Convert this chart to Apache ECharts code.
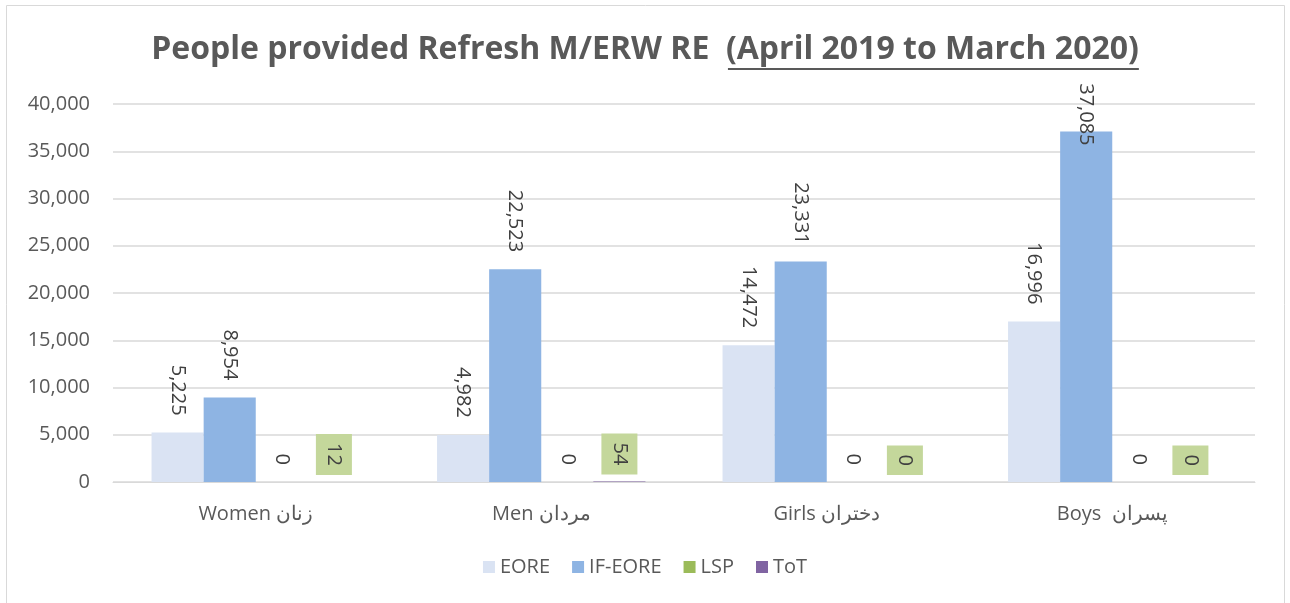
<!DOCTYPE html>
<html>
<head>
<meta charset="utf-8">
<style>
  html, body { margin: 0; padding: 0; background: #fff; }
  #chart { width: 1290px; height: 603px; }
</style>
<script src="https://cdn.jsdelivr.net/npm/echarts@6/dist/echarts.min.js"></script>
</head>
<body>
<div id="chart"></div>
<script>
// category labels (latin first, persian after, as drawn)
const categories = ['Women زنان', 'Men مردان', 'Girls دختران', 'Boys  پسران']
const eore = [5225, 4982, 14472, 16996]
const ifEore = [8954, 22523, 23331, 37085]
const lsp = [0, 0, 0, 0]
const tot = [12, 54, 0, 0]
const yTicks = [0, 5000, 10000, 15000, 20000, 25000, 30000, 35000, 40000]

const titleMain = 'People provided Refresh M/ERW RE  '
const titlePeriod = '(April 2019 to March 2020)'

const font = '"Open Sans", "Noto Sans", sans-serif'
const textColor = '#595959'
const titleSize = 32
const titleTop = 34

const chart = echarts.init(document.getElementById('chart'))

function fmt(v) {
  return v.toLocaleString('en-US')
}

// measure title pieces so the underline sits under the period part only
function measure(str) {
  const ctx = document.createElement('canvas').getContext('2d')
  ctx.font = 'bold ' + titleSize + 'px ' + font
  return ctx.measureText(str).width
}
const wMain = measure(titleMain)
const wPeriod = measure(titlePeriod)
const titleLeft = 645 - (wMain + wPeriod) / 2

// rotated value label sitting above the bar
function valueLabel(extra) {
  return Object.assign({
    show: true,
    position: 'top',
    rotate: -90,
    align: 'right',
    verticalAlign: 'middle',
    distance: 17,
    fontFamily: font,
    fontSize: 20,
    color: '#404040',
    formatter: p => fmt(p.value)
  }, extra || {})
}

// tallest label gets pulled down into the bar, like the original
function withFit(arr) {
  return arr.map(v => v > 35000 ? { value: v, label: { distance: -14 } } : v)
}

chart.setOption({
  animation: false,
  title: {
    text: '{a|' + titleMain + '}{b|' + titlePeriod + '}',
    left: 'center',
    top: titleTop,
    padding: 0,
    textStyle: {
      rich: {
        a: { fontFamily: font, fontSize: titleSize, fontWeight: 'bold', color: textColor },
        b: { fontFamily: font, fontSize: titleSize, fontWeight: 'bold', color: textColor }
      }
    }
  },
  graphic: [
    {
      type: 'rect',
      shape: { x: 6.5, y: 5.5, width: 1278, height: 610 },
      style: { fill: 'none', stroke: '#d9d9d9', lineWidth: 1 },
      silent: true
    },
    {
      type: 'line',
      shape: {
        x1: titleLeft + wMain + 2, y1: titleTop + titleSize + 3,
        x2: titleLeft + wMain + wPeriod, y2: titleTop + titleSize + 3
      },
      style: { stroke: textColor, lineWidth: 2 },
      silent: true
    }
  ],
  legend: {
    bottom: 21,
    left: 'center',
    itemWidth: 12,
    itemHeight: 12,
    itemGap: 22,
    icon: 'rect',
    textStyle: { fontFamily: font, fontSize: 20, color: textColor },
    data: ['EORE', 'IF-EORE', 'LSP', 'ToT']
  },
  grid: {
    left: 113,
    right: 35,
    top: 104,
    bottom: 121
  },
  xAxis: {
    type: 'category',
    data: categories,
    axisTick: { show: false },
    axisLine: { lineStyle: { color: '#d9d9d9' } },
    axisLabel: {
      fontFamily: font,
      fontSize: 20,
      color: textColor,
      margin: 22
    }
  },
  yAxis: {
    type: 'value',
    min: yTicks[0],
    max: yTicks[yTicks.length - 1],
    interval: yTicks[1] - yTicks[0],
    axisLine: { show: false },
    axisTick: { show: false },
    splitLine: { lineStyle: { color: '#d9d9d9', width: 1.5 } },
    axisLabel: {
      fontFamily: font,
      fontSize: 20,
      color: textColor,
      margin: 23,
      formatter: v => fmt(v)
    }
  },
  series: [
    {
      name: 'EORE',
      type: 'bar',
      barGap: '0%',
      barCategoryGap: '27%',
      itemStyle: { color: '#dae3f3' },
      label: valueLabel(),
      data: eore
    },
    {
      name: 'IF-EORE',
      type: 'bar',
      itemStyle: { color: '#8eb4e3' },
      label: valueLabel(),
      data: withFit(ifEore)
    },
    {
      name: 'LSP',
      type: 'bar',
      itemStyle: { color: '#9bbb59' },
      label: valueLabel(),
      data: lsp
    },
    {
      name: 'ToT',
      type: 'bar',
      itemStyle: { color: '#8064a2' },
      label: valueLabel({
        distance: 7,
        backgroundColor: '#c4d79b',
        padding: [8, 9, 8, 9]
      }),
      data: tot
    }
  ]
})
</script>
</body>
</html>
